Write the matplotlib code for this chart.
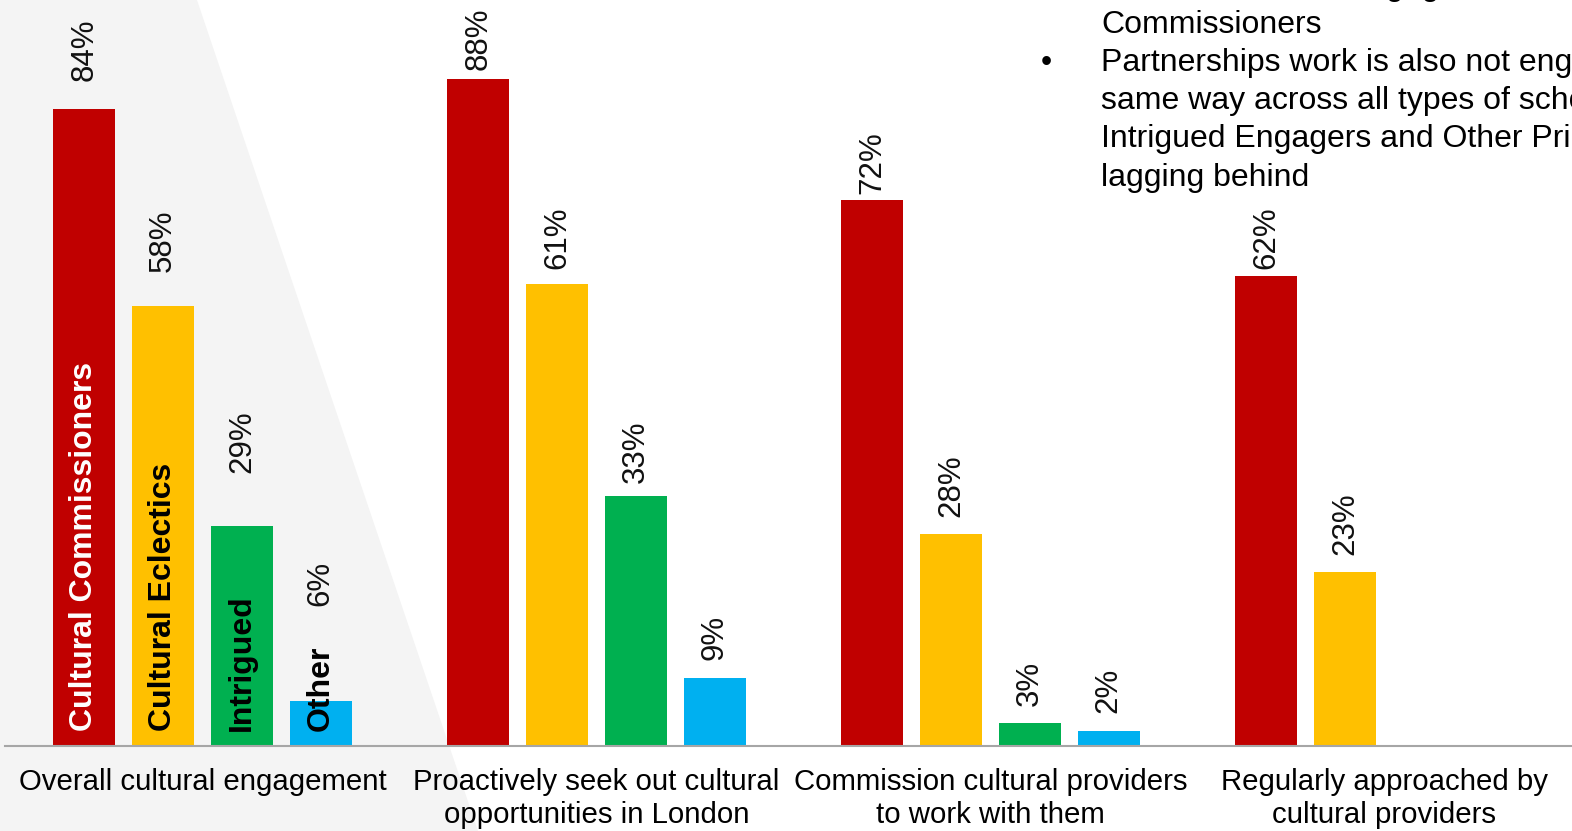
import numpy as np
import matplotlib
matplotlib.use("Agg")
import matplotlib.pyplot as plt
from matplotlib.patches import Polygon

plt.rcParams['font.family'] = ['Liberation Sans', 'DejaVu Sans']

# data
categories = ["Overall cultural engagement",
              "Proactively seek out cultural\nopportunities in London",
              "Commission cultural providers\nto work with them",
              "Regularly approached by\ncultural providers"]
series = ["Cultural Commissioners", "Cultural Eclectics", "Intrigued", "Other"]
commissioners = [84, 88, 72, 62]
eclectics = [58, 61, 28, 23]
intrigued = [29, 33, 3, None]
other = [6, 9, 2, None]

colors = ["#C00000", "#FFC000", "#00B050", "#00B0F0"]
name_colors = ["white", "black", "black", "black"]
# gap between each value label and its bar, in pixels (hand placed in the original)
label_gaps = [[28, 34, 53, 95], [9, 15, 13, 18], [6, 17, 17, 18], [7, 17]]

W, H = 1572, 831
fig = plt.figure(figsize=(W / 100, H / 100), dpi=100)

# light grey wedge behind the first group
wedge = Polygon([(0, 1), (197 / W, 1), (478 / W, 0), (0, 0)], closed=True,
                transform=fig.transFigure, facecolor="#F4F4F4", edgecolor="none", zorder=-5)
fig.patches.append(wedge)

ax = fig.add_axes([5 / W, 85 / H, 1567 / W, 746 / H])
ax.set_facecolor("none")
ax.set_zorder(1)

x = np.arange(len(categories))
width = 0.157
all_values = [commissioners, eclectics, intrigued, other]
for i, vals in enumerate(all_values):
    offs = (i - 1.5) * 0.2
    for g, v in enumerate(vals):
        if v is None:
            continue
        ax.bar(x[g] + offs, v, width, color=colors[i], zorder=2)
        gap = label_gaps[g][i] * 0.72
        ax.annotate(f"{v}%", (x[g] + offs, v), xytext=(0, gap), textcoords="offset points",
                    rotation=90, ha="center", va="bottom", fontsize=22.5, color="#111111")

# series names written inside the first group of bars
for i, name in enumerate(series):
    ax.annotate(name, (x[0] + (i - 1.5) * 0.2, 0), xytext=(0, 11), textcoords="offset points",
                rotation=90, ha="center", va="bottom", fontsize=23, fontweight="bold",
                color=name_colors[i], zorder=3)

ax.set_xlim(-0.5013, 3.476)
ax.set_ylim(0, 98.4)
ax.set_xticks(x)
ax.set_xticklabels(categories, fontsize=21.2, linespacing=1.2)
ax.tick_params(axis="x", length=0, pad=16)
ax.set_yticks([])
for s in ["top", "right", "left"]:
    ax.spines[s].set_visible(False)
ax.spines["bottom"].set_color("#A6A6A6")
ax.spines["bottom"].set_linewidth(1.5)

# commentary text on the right, cut off by the slide edge
lines = ["Levels of cultural engagement are highest among Cultural",
         "Commissioners",
         "Partnerships work is also not engaged in the",
         "same way across all types of schools, with",
         "Intrigued Engagers and Other Primaries",
         "lagging behind"]
baselines = [-5, 33, 71, 109, 147, 186]
for t, b in zip(lines, baselines):
    fig.text(1101 / W, 1 - b / H, t, fontsize=23, va="baseline", ha="left", color="black")
fig.text(1046 / W, 1 - 71 / H, "•", fontsize=23, va="baseline", ha="center", color="black")

fig.savefig("out.png", dpi=100)
